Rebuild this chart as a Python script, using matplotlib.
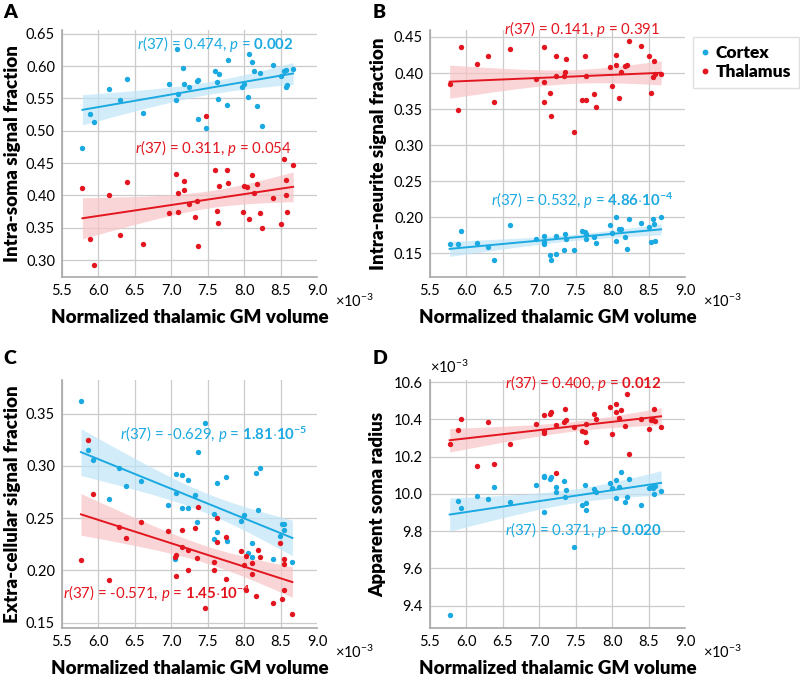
import matplotlib
matplotlib.use("Agg")
import matplotlib.pyplot as plt
import numpy as np
from matplotlib.lines import Line2D

plt.rcParams["font.family"] = ["Lato", "DejaVu Sans"]
plt.rcParams["mathtext.fontset"] = "custom"
plt.rcParams["mathtext.rm"] = "Lato"
plt.rcParams["mathtext.it"] = "Lato:italic"
plt.rcParams["mathtext.bf"] = "Lato:bold"

BLUE = "#1BA9E1"
RED = "#E3161F"
BLUE_BAND = "#BFE6F7"
RED_BAND = "#F7C4C6"
GRID = "#CBCBCB"
SPINE = "#A8A8A8"

# ---- panel A: intra-soma signal fraction ----
a_ctx_x = [5.78, 5.88, 5.94, 6.15, 6.30, 6.39, 6.61, 6.97, 7.08, 7.07, 7.09, 7.16, 7.17,
           7.24, 7.35, 7.36, 7.37, 7.48, 7.60, 7.63, 7.65, 7.64, 7.78, 7.76, 7.97, 8.00,
           8.05, 8.06, 8.10, 8.13, 8.18, 8.21, 8.24, 8.40, 8.51, 8.54, 8.57, 8.57, 8.58, 8.67]
a_ctx_y = [0.473, 0.526, 0.514, 0.565, 0.547, 0.580, 0.528, 0.572, 0.627, 0.548, 0.556,
           0.597, 0.572, 0.568, 0.577, 0.579, 0.518, 0.504, 0.593, 0.576, 0.587, 0.549,
           0.610, 0.539, 0.568, 0.572, 0.552, 0.618, 0.606, 0.592, 0.538, 0.589, 0.507,
           0.602, 0.584, 0.593, 0.594, 0.568, 0.570, 0.595]
a_thal_x = [5.78, 5.88, 5.94, 6.15, 6.30, 6.39, 6.61, 6.97, 7.07, 7.09, 7.09, 7.17, 7.17,
            7.24, 7.35, 7.33, 7.37, 7.48, 7.60, 7.63, 7.65, 7.64, 7.76, 7.78, 7.98, 8.00,
            8.04, 8.06, 8.10, 8.13, 8.18, 8.21, 8.24, 8.40, 8.51, 8.54, 8.57, 8.57, 8.58, 8.67]
a_thal_y = [0.412, 0.332, 0.292, 0.401, 0.338, 0.421, 0.325, 0.372, 0.433, 0.404, 0.375,
            0.423, 0.408, 0.387, 0.391, 0.366, 0.322, 0.522, 0.440, 0.376, 0.414, 0.357,
            0.440, 0.419, 0.374, 0.415, 0.413, 0.363, 0.431, 0.404, 0.417, 0.372, 0.349,
            0.396, 0.356, 0.456, 0.424, 0.401, 0.375, 0.447]

# ---- panel B: intra-neurite signal fraction ----
b_x = [5.77, 5.88, 5.92, 6.15, 6.29, 6.38, 6.60, 6.96, 7.07, 7.06, 7.07, 7.15, 7.16, 7.23,
       7.23, 7.34, 7.35, 7.37, 7.47, 7.59, 7.62, 7.64, 7.64, 7.75, 7.77, 7.97, 8.00, 8.05,
       8.05, 8.09, 8.12, 8.17, 8.20, 8.23, 8.40, 8.50, 8.53, 8.56, 8.57, 8.58, 8.67]
b_thal_y = [0.385, 0.349, 0.436, 0.413, 0.424, 0.360, 0.433, 0.392, 0.436, 0.360, 0.388,
            0.372, 0.341, 0.424, 0.396, 0.396, 0.401, 0.420, 0.318, 0.363, 0.424, 0.362,
            0.396, 0.371, 0.353, 0.409, 0.382, 0.411, 0.425, 0.365, 0.402, 0.410, 0.411,
            0.444, 0.437, 0.423, 0.372, 0.395, 0.416, 0.398, 0.398]
b_ctx_y = [0.163, 0.162, 0.181, 0.164, 0.159, 0.140, 0.189, 0.169, 0.174, 0.165, 0.162,
           0.148, 0.141, 0.149, 0.174, 0.155, 0.177, 0.170, 0.154, 0.181, 0.179, 0.170,
           0.176, 0.172, 0.164, 0.189, 0.178, 0.200, 0.167, 0.183, 0.184, 0.172, 0.156,
           0.197, 0.192, 0.186, 0.165, 0.197, 0.190, 0.167, 0.200]

# ---- panel C: extra-cellular signal fraction ----
c_ctx_x = [5.76, 5.85, 5.92, 6.14, 6.28, 6.38, 6.59, 6.96, 7.06, 7.06, 7.05, 7.14, 7.14,
           7.23, 7.23, 7.32, 7.35, 7.36, 7.46, 7.59, 7.59, 7.63, 7.63, 7.75, 7.76, 7.96,
           7.99, 8.05, 8.10, 8.11, 8.16, 8.19, 8.22, 8.39, 8.49, 8.52, 8.55, 8.55, 8.66]
c_ctx_y = [0.362, 0.315, 0.306, 0.268, 0.298, 0.281, 0.286, 0.263, 0.292, 0.274, 0.211,
           0.291, 0.260, 0.287, 0.260, 0.272, 0.246, 0.313, 0.341, 0.254, 0.230, 0.284,
           0.237, 0.289, 0.228, 0.247, 0.253, 0.217, 0.226, 0.213, 0.293, 0.258, 0.298,
           0.211, 0.233, 0.244, 0.244, 0.239, 0.208]
c_thal_x = [5.76, 5.85, 5.92, 6.14, 6.28, 6.38, 6.59, 6.96, 7.05, 7.06, 7.06, 7.14, 7.14,
            7.23, 7.23, 7.32, 7.35, 7.36, 7.46, 7.59, 7.59, 7.63, 7.63, 7.75, 7.75, 7.96,
            7.99, 8.03, 8.03, 8.10, 8.11, 8.16, 8.19, 8.22, 8.39, 8.49, 8.52, 8.55, 8.55,
            8.55, 8.66]
c_thal_y = [0.210, 0.325, 0.273, 0.191, 0.242, 0.231, 0.246, 0.238, 0.213, 0.195, 0.215,
            0.239, 0.222, 0.220, 0.200, 0.241, 0.212, 0.261, 0.164, 0.208, 0.200, 0.250,
            0.227, 0.232, 0.192, 0.219, 0.205, 0.214, 0.181, 0.207, 0.197, 0.176, 0.220,
            0.213, 0.169, 0.226, 0.173, 0.211, 0.206, 0.181, 0.158]

# ---- panel D: apparent soma radius (x1e-3) ----
d_x = b_x
d_thal_y = [10.267, 10.343, 10.404, 10.152, 10.388, 10.158, 10.265, 10.374, 10.422, 10.327,
            10.340, 10.427, 10.438, 10.110, 10.370, 10.386, 10.456, 10.399, 10.358, 10.340,
            10.334, 10.279, 10.374, 10.427, 10.404, 10.466, 10.320, 10.440, 10.482, 10.407,
            10.448, 10.365, 10.536, 10.213, 10.404, 10.349, 10.395, 10.395, 10.457, 10.390,
            10.359]
d_ctx_y = [9.348, 9.962, 9.926, 9.987, 9.974, 10.037, 9.956, 10.047, 10.097, 9.901, 10.090,
           10.081, 10.088, 10.037, 10.012, 10.067, 9.983, 10.021, 9.717, 9.939, 10.047, 9.914,
           9.951, 10.028, 10.008, 10.056, 10.033, 10.072, 9.978, 10.038, 10.117, 9.958, 9.985,
           10.081, 9.942, 10.031, 10.038, 10.033, 10.001, 10.044, 10.015]

x_ticks = [5.5, 6.0, 6.5, 7.0, 7.5, 8.0, 8.5, 9.0]
T_CRIT = 2.026  # t(0.975, df=37)


def _fit_band(ax, x, y, color, band_color):
    x = np.asarray(x, dtype=float)
    y = np.asarray(y, dtype=float)
    slope, icpt = np.polyfit(x, y, 1)
    xs = np.linspace(x.min(), x.max(), 100)
    resid = y - (slope * x + icpt)
    s = np.sqrt(np.sum(resid ** 2) / (len(x) - 2))
    se = s * np.sqrt(1.0 / len(x) + (xs - x.mean()) ** 2 / np.sum((x - x.mean()) ** 2))
    fit = slope * xs + icpt
    ax.fill_between(xs, fit - T_CRIT * se, fit + T_CRIT * se, color=band_color,
                    alpha=0.7, lw=0, zorder=2)
    ax.plot(xs, fit, color=color, lw=1.4, zorder=4)


def _style(ax, ylim, yticks, yfmt, ylabel, label_x):
    ax.set_xlim(5.5, 9.0)
    ax.set_ylim(*ylim)
    ax.set_xticks(x_ticks)
    ax.set_xticklabels([f"{v:.1f}" for v in x_ticks])
    ax.set_yticks(yticks)
    ax.set_yticklabels([yfmt.format(v) for v in yticks])
    ax.tick_params(length=0, labelsize=10.5, pad=5)
    ax.grid(True, color=GRID, lw=0.9)
    ax.set_axisbelow(True)
    ax.get_xgridlines()[-1].set_visible(False)
    for side in ("top", "right"):
        ax.spines[side].set_visible(False)
    for side in ("left", "bottom"):
        ax.spines[side].set_color(SPINE)
        ax.spines[side].set_linewidth(1.2)
    ax.set_xlabel("Normalized thalamic GM volume", fontsize=13.5, fontweight="heavy",
                  labelpad=8)
    ax.set_ylabel(ylabel, fontsize=13.5, fontweight="heavy")
    ax.yaxis.set_label_coords(label_x, 0.5)
    ax.text(1.07, -0.1, r"×10$^{-3}$", transform=ax.transAxes, fontsize=10.5,
            ha="left", va="center")


def _panel(ax, xc, yc, xt, yt):
    ax.scatter(xc, yc, s=15, color=BLUE, lw=0, zorder=5)
    ax.scatter(xt, yt, s=15, color=RED, lw=0, zorder=5)
    _fit_band(ax, xc, yc, BLUE, BLUE_BAND)
    _fit_band(ax, xt, yt, RED, RED_BAND)


def _stat(ax, x, y, txt, color, ha="center"):
    ax.text(x, y, txt, color=color, fontsize=10.8, ha=ha, va="center",
            zorder=6, clip_on=False)


fig = plt.figure(figsize=(8.0, 6.77), dpi=100)
axA = fig.add_axes([0.0775, 0.591, 0.319, 0.365])
axB = fig.add_axes([0.5375, 0.591, 0.319, 0.365])
axC = fig.add_axes([0.0775, 0.0724, 0.319, 0.366])
axD = fig.add_axes([0.5375, 0.0724, 0.319, 0.366])

_panel(axA, a_ctx_x, a_ctx_y, a_thal_x, a_thal_y)
_style(axA, (0.274, 0.656), [0.30, 0.35, 0.40, 0.45, 0.50, 0.55, 0.60, 0.65], "{:.2f}",
       "Intra-soma signal fraction", -0.16)
_stat(axA, 7.60, 0.634, r"$\mathit{r}$(37) = 0.474, $\mathit{p}$ = $\mathbf{0.002}$", BLUE)
_stat(axA, 7.58, 0.474, r"$\mathit{r}$(37) = 0.311, $\mathit{p}$ = 0.054", RED)

_panel(axB, b_x, b_ctx_y, b_x, b_thal_y)
_style(axB, (0.117, 0.460), [0.15, 0.20, 0.25, 0.30, 0.35, 0.40, 0.45], "{:.2f}",
       "Intra-neurite signal fraction", -0.17)
_stat(axB, 7.59, 0.461, r"$\mathit{r}$(37) = 0.141, $\mathit{p}$ = 0.391", RED)
_stat(axB, 7.59, 0.222,
      r"$\mathit{r}$(37) = 0.532, $\mathit{p}$ = $\mathbf{4.86{\cdot}10^{-4}}$", BLUE)

_panel(axC, c_ctx_x, c_ctx_y, c_thal_x, c_thal_y)
_style(axC, (0.145, 0.382), [0.15, 0.20, 0.25, 0.30, 0.35], "{:.2f}",
       "Extra-cellular signal fraction", -0.16)
_stat(axC, 7.58, 0.330,
      r"$\mathit{r}$(37) = -0.629, $\mathit{p}$ = $\mathbf{1.81{\cdot}10^{-5}}$", BLUE)
_stat(axC, 5.51, 0.178,
      r"$\mathit{r}$(37) = -0.571, $\mathit{p}$ = $\mathbf{1.45{\cdot}10^{-4}}$", RED, ha="left")

_panel(axD, d_x, d_ctx_y, d_x, d_thal_y)
_style(axD, (9.28, 10.61), [9.4, 9.6, 9.8, 10.0, 10.2, 10.4, 10.6], "{:.1f}",
       "Apparent soma radius", -0.17)
axD.text(0.0, 1.05, r"×10$^{-3}$", transform=axD.transAxes, fontsize=10.5,
         ha="left", va="center")
_stat(axD, 7.60, 10.595, r"$\mathit{r}$(37) = 0.400, $\mathit{p}$ = $\mathbf{0.012}$", RED)
_stat(axD, 7.60, 9.807, r"$\mathit{r}$(37) = 0.371, $\mathit{p}$ = $\mathbf{0.020}$", BLUE)

for lbl, (px, py) in zip("ABCD", [(3, 4), (373, 4), (3, 350), (373, 350)]):
    fig.text(px / 800, 1 - py / 677, lbl, fontsize=14, fontweight="heavy",
             ha="left", va="top")

handles = [
    Line2D([], [], marker="o", ls="", color=BLUE, markersize=3.2, label="Cortex"),
    Line2D([], [], marker="o", ls="", color=RED, markersize=3.2, label="Thalamus"),
]
fig.legend(handles=handles, loc="upper left", bbox_to_anchor=(693 / 800, 1 - 37 / 677),
           frameon=True, fancybox=False, edgecolor="#D8D8D8", handlelength=0.5,
           handletextpad=0.35, borderpad=0.45, labelspacing=0.2, borderaxespad=0,
           prop={"size": 12.5, "weight": "heavy"})

fig.savefig("out.png", dpi=100)
